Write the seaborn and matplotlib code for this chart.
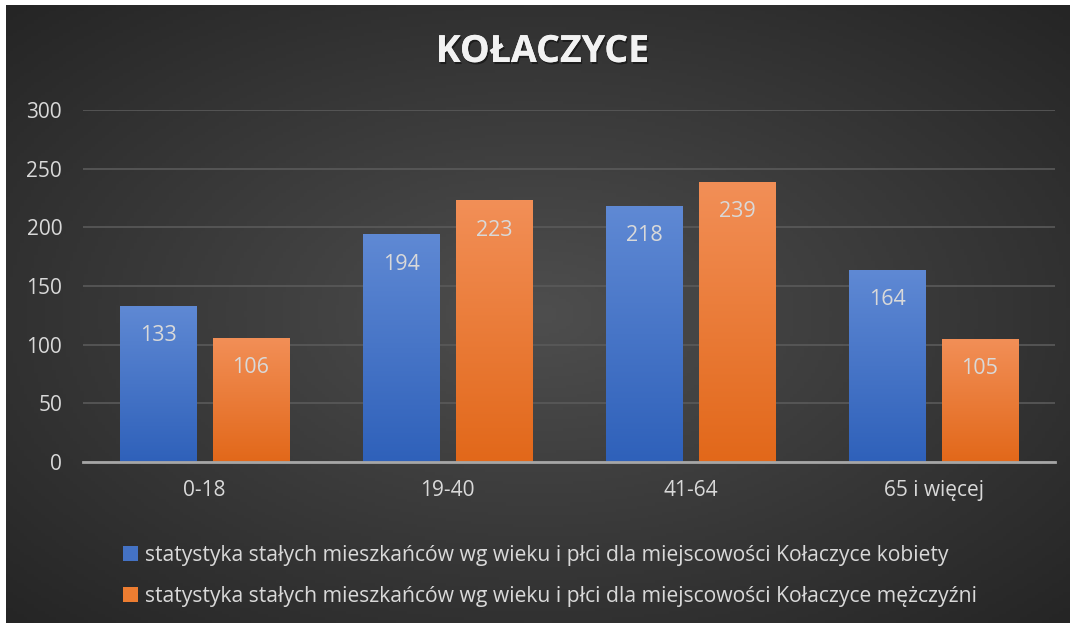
import numpy as np
import pandas as pd
import matplotlib.pyplot as plt
import matplotlib.patheffects as pe
import seaborn as sns
from matplotlib.colors import to_rgb

categories = ['0-18', '19-40', '41-64', '65 i więcej']
kobiety = [133, 194, 218, 164]
mezczyzni = [106, 223, 239, 105]
series_names = [
    'statystyka stałych mieszkańców wg wieku i płci dla miejscowości Kołaczyce kobiety',
    'statystyka stałych mieszkańców wg wieku i płci dla miejscowości Kołaczyce mężczyźni',
]
yticks = [0, 50, 100, 150, 200, 250, 300]
title = 'KOŁACZYCE'

df = pd.DataFrame({
    'grupa': categories * 2,
    'liczba': kobiety + mezczyzni,
    'seria': [series_names[0]] * len(categories) + [series_names[1]] * len(categories),
})

sns.set_style('dark')
plt.rcParams['font.family'] = ['Open Sans', 'DejaVu Sans']
txt_col = '#d9d9d9'

W, H = 1072, 623
fig = plt.figure(figsize=(W / 100, H / 100), dpi=100, facecolor='white')

# tlo z gradientem radialnym
bg = fig.add_axes([6 / W, 0, 1064 / W, 618 / H])
bg.axis('off')
gx, gy = np.meshgrid(np.linspace(-1, 1, 300), np.linspace(-1, 1, 200))
r = np.clip(np.sqrt(gx ** 2 + gy ** 2) / np.sqrt(2), 0, 1)
c0 = np.array(to_rgb('#4e4e4e'))
c1 = np.array(to_rgb('#252525'))
img = c0 + (c1 - c0) * r[..., None]
bg.imshow(img, extent=(0, 1, 0, 1), aspect='auto', origin='lower')
bg.set_xlim(0, 1)
bg.set_ylim(0, 1)

ax = fig.add_axes([83 / W, 161 / H, 972 / W, 352 / H])
ax.patch.set_visible(False)

palette = ['#4472c4', '#ed7d31']
sns.barplot(data=df, x='grupa', y='liczba', hue='seria', palette=palette,
            width=0.765, gap=0.18, ax=ax, saturation=1)

grads = [('#5f89d4', '#2f61ba'), ('#f28f57', '#e2681a')]
for cont, (top, bot) in zip(ax.containers, grads):
    for p in cont:
        x, w, h = p.get_x(), p.get_width(), p.get_height()
        t = np.linspace(0, 1, 100)[:, None]
        g = np.array(to_rgb(bot)) + (np.array(to_rgb(top)) - np.array(to_rgb(bot))) * t[..., None]
        im = ax.imshow(g, extent=(x, x + w, 0, h), aspect='auto', origin='lower', zorder=2)
        im.set_clip_path(p)
        p.set_edgecolor('none')
    ax.bar_label(cont, padding=-29, color=txt_col, fontsize=15.5)

ax.set_xlim(-0.5, 3.5)
ax.set_ylim(0, 300)
ax.set_yticks(yticks)
ax.yaxis.grid(True, color='#5a5a5a', lw=1.2)
ax.xaxis.grid(False)
ax.set_axisbelow(True)
for s in ['top', 'left', 'right']:
    ax.spines[s].set_visible(False)
ax.spines['bottom'].set_color('#a6a6a6')
ax.spines['bottom'].set_linewidth(2)
ax.tick_params(axis='y', length=0, pad=15, labelsize=15, labelcolor=txt_col)
ax.tick_params(axis='x', length=0, pad=13, labelsize=15, labelcolor=txt_col)
ax.set_xlabel('')
ax.set_ylabel('')

handles, labels = ax.get_legend_handles_labels()
ax.get_legend().remove()
leg = fig.legend(handles, labels, loc='upper left', bbox_to_anchor=(104 / W, 1 - 526 / H),
                 frameon=False, ncol=1, fontsize=15.2, labelcolor=txt_col,
                 handlelength=0.7, handleheight=0.7, handletextpad=0.35, labelspacing=0.95)
for h in leg.legend_handles:
    h.set_edgecolor('none')

fig.text(0.506, 1 - 52 / H, title, ha='center', va='center', fontsize=27,
         fontweight='bold', color='#f2f2f2',
         path_effects=[pe.withSimplePatchShadow(offset=(1, -1.5), shadow_rgbFace='black', alpha=0.45),
                       pe.Normal()])

fig.savefig('out.png', dpi=100, facecolor=fig.get_facecolor())
